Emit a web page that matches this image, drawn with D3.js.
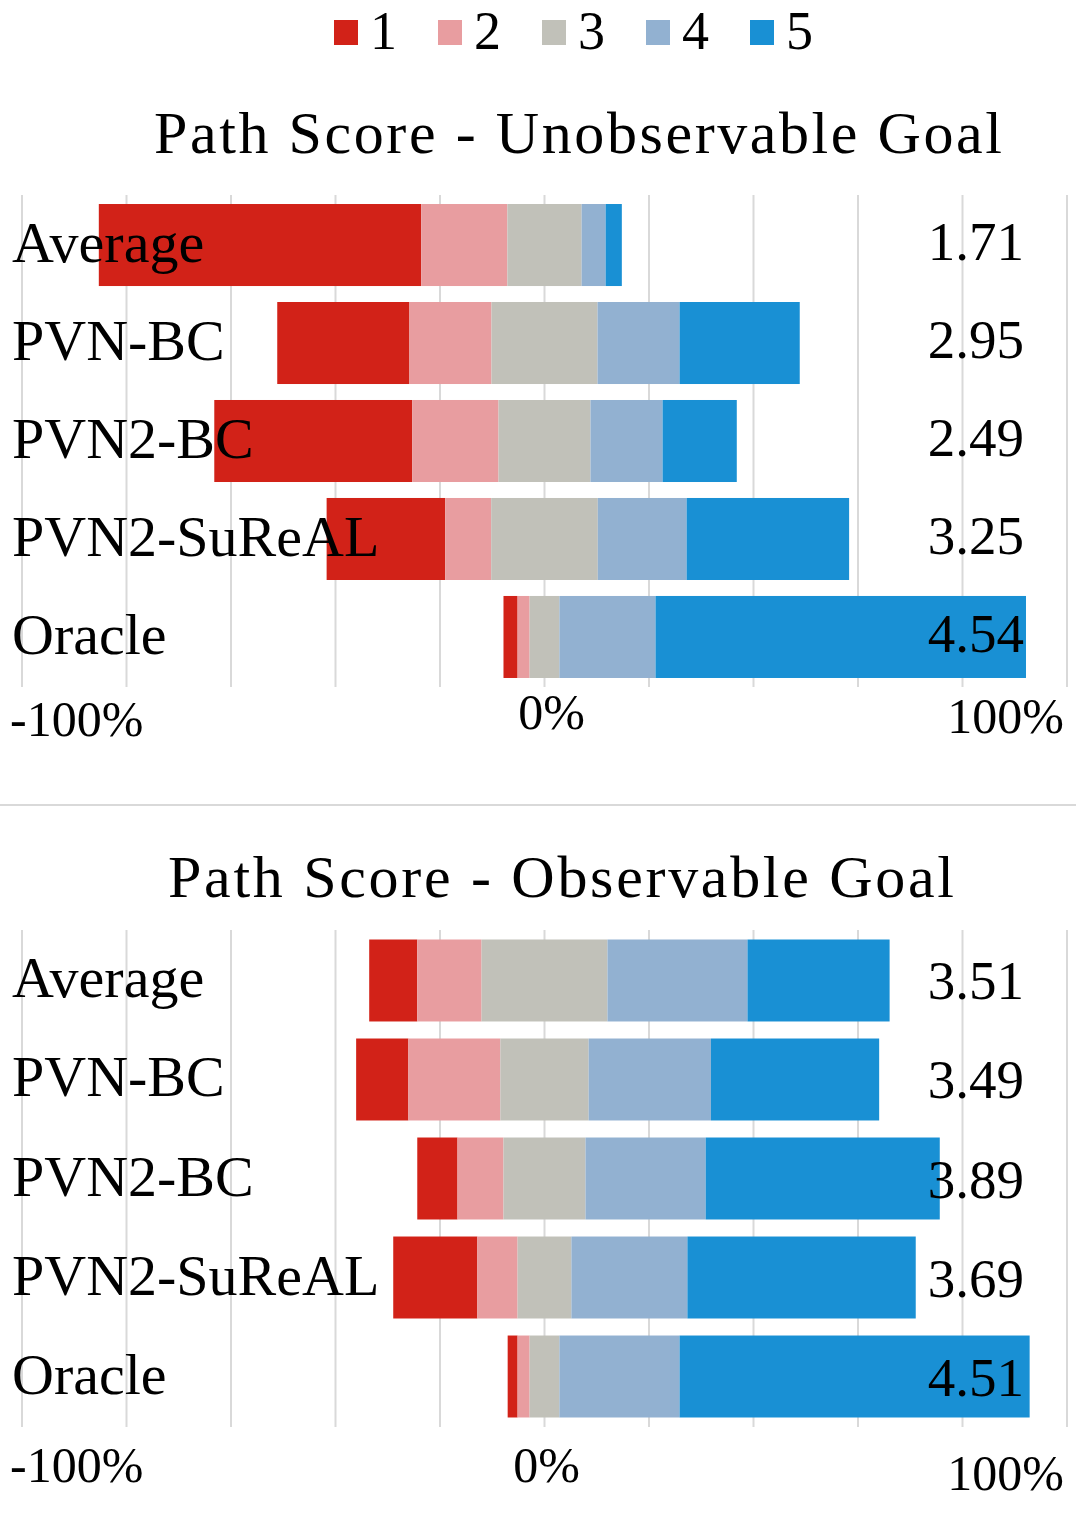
<!DOCTYPE html>
<html>
<head>
<meta charset="utf-8">
<script src="https://cdn.jsdelivr.net/npm/d3@7"></script>
<style>
  html, body { margin: 0; padding: 0; background: #ffffff; }
  svg { display: block; }
  text { font-family: "Liberation Serif", "Times New Roman", serif; fill: #000; }
</style>
</head>
<body>
<div id="chart"></div>
<script>
// ---------------- data ----------------
const categories = ["Average", "PVN-BC", "PVN2-BC", "PVN2-SuReAL", "Oracle"];
const levels = ["1", "2", "3", "4", "5"];
const levelColors = ["#d22218", "#e89da0", "#c1c1b9", "#92b1d1", "#1990d4"];

// Path Score - Unobservable Goal (percent of responses per score)
const unobsScore1 = [61.7, 25.3, 37.9, 22.7, 2.7];
const unobsScore2 = [16.5, 15.7, 16.5, 8.8, 2.3];
const unobsScore3 = [14.2, 20.3, 17.6, 20.4, 5.7];
const unobsScore4 = [4.6, 15.7, 13.8, 17.0, 18.4];
const unobsScore5 = [3.1, 23.0, 14.2, 31.1, 70.9];
const unobsMeans = ["1.71", "2.95", "2.49", "3.25", "4.54"];

// Path Score - Observable Goal
const obsScore1 = [9.2, 10.0, 7.7, 16.1, 1.9];
const obsScore2 = [12.3, 17.6, 8.8, 7.7, 2.3];
const obsScore3 = [24.1, 16.9, 15.7, 10.3, 5.7];
const obsScore4 = [26.8, 23.4, 23.0, 22.2, 23.0];
const obsScore5 = [27.2, 32.2, 44.8, 43.7, 67.0];
const obsMeans = ["3.51", "3.49", "3.89", "3.69", "4.51"];

const gridTicks = [-100, -80, -60, -40, -20, 0, 20, 40, 60, 80, 100];
const labelTicks = [-100, 0, 100];
const labelTickText = ["-100%", "0%", "100%"];

const titles = ["Path Score - Unobservable Goal", "Path Score - Observable Goal"];

// ---------------- layout ----------------
const W = 1076, H = 1540;
const svg = d3.select("#chart").append("svg")
  .attr("width", W).attr("height", H)
  .attr("viewBox", `0 0 ${W} ${H}`);
svg.append("rect").attr("width", W).attr("height", H).attr("fill", "#fff");

const x = d3.scaleLinear().domain([-100, 100]).range([22, 1067]);
const color = d3.scaleOrdinal().domain(levels).range(levelColors);

// legend
const legend = svg.append("g");
const legX = d3.scalePoint().domain(levels).range([334, 750]);
levels.forEach(l => {
  legend.append("rect")
    .attr("x", legX(l)).attr("y", 20)
    .attr("width", 24).attr("height", 25)
    .attr("fill", color(l));
  legend.append("text")
    .attr("x", legX(l) + 36).attr("y", 49)
    .attr("font-size", 54)
    .text(l);
});

const panels = [
  {
    title: titles[0], series: [unobsScore1, unobsScore2, unobsScore3, unobsScore4, unobsScore5],
    means: unobsMeans, top: 195, bottom: 687, pi: 0.163, po: 0.092,
    titleX: 578, titleY: 153, titleLen: 848,
    tickLayout: [{dx: -12, dy: 49, anchor: "start"}, {dx: 7, dy: 42, anchor: "middle"}, {dx: -3, dy: 46, anchor: "end"}],
    valueDy: 15
  },
  {
    title: titles[1], series: [obsScore1, obsScore2, obsScore3, obsScore4, obsScore5],
    means: obsMeans, top: 930, bottom: 1427, pi: 0.172, po: 0.096,
    titleX: 561, titleY: 897, titleLen: 786,
    tickLayout: [{dx: -12, dy: 55, anchor: "start"}, {dx: 2, dy: 55, anchor: "middle"}, {dx: -3, dy: 63, anchor: "end"}],
    valueDy: 19
  }
];

panels.forEach(p => {
  const g = svg.append("g");
  const y = d3.scaleBand().domain(categories).range([p.top, p.bottom])
    .paddingInner(p.pi).paddingOuter(p.po);

  // title
  g.append("text")
    .attr("x", p.titleX).attr("y", p.titleY)
    .attr("text-anchor", "middle")
    .attr("font-size", 60)
    .attr("textLength", p.titleLen)
    .attr("lengthAdjust", "spacing")
    .text(p.title);

  // gridlines
  g.selectAll("line.grid").data(gridTicks).join("line")
    .attr("class", "grid")
    .attr("x1", d => x(d)).attr("x2", d => x(d))
    .attr("y1", p.top).attr("y2", p.bottom)
    .attr("stroke", "#d9d9d9").attr("stroke-width", 2);

  // diverging stacks
  categories.forEach((c, i) => {
    const vals = p.series.map(s => s[i]);
    let start = -(vals[0] + vals[1] + vals[2] / 2);
    vals.forEach((v, k) => {
      g.append("rect")
        .attr("x", x(start))
        .attr("y", y(c))
        .attr("width", x(start + v) - x(start))
        .attr("height", y.bandwidth())
        .attr("fill", color(levels[k]));
      start += v;
    });
  });

  // category labels
  g.selectAll("text.cat").data(categories).join("text")
    .attr("class", "cat")
    .attr("x", 12)
    .attr("y", d => y(d) + y.bandwidth() / 2 + 17)
    .attr("font-size", 58)
    .text(d => d);

  // mean values
  g.selectAll("text.mean").data(categories).join("text")
    .attr("class", "mean")
    .attr("x", 1024)
    .attr("y", d => y(d) + y.bandwidth() / 2 + p.valueDy)
    .attr("text-anchor", "end")
    .attr("font-size", 55)
    .text((d, i) => p.means[i]);

  // axis tick labels
  labelTicks.forEach((t, i) => {
    const L = p.tickLayout[i];
    g.append("text")
      .attr("x", x(t) + L.dx)
      .attr("y", p.bottom + L.dy)
      .attr("text-anchor", L.anchor)
      .attr("font-size", 50)
      .text(labelTickText[i]);
  });
});

// separator line between the two panels
svg.append("line")
  .attr("x1", 0).attr("x2", W)
  .attr("y1", 805).attr("y2", 805)
  .attr("stroke", "#d9d9d9").attr("stroke-width", 2);
</script>
</body>
</html>
